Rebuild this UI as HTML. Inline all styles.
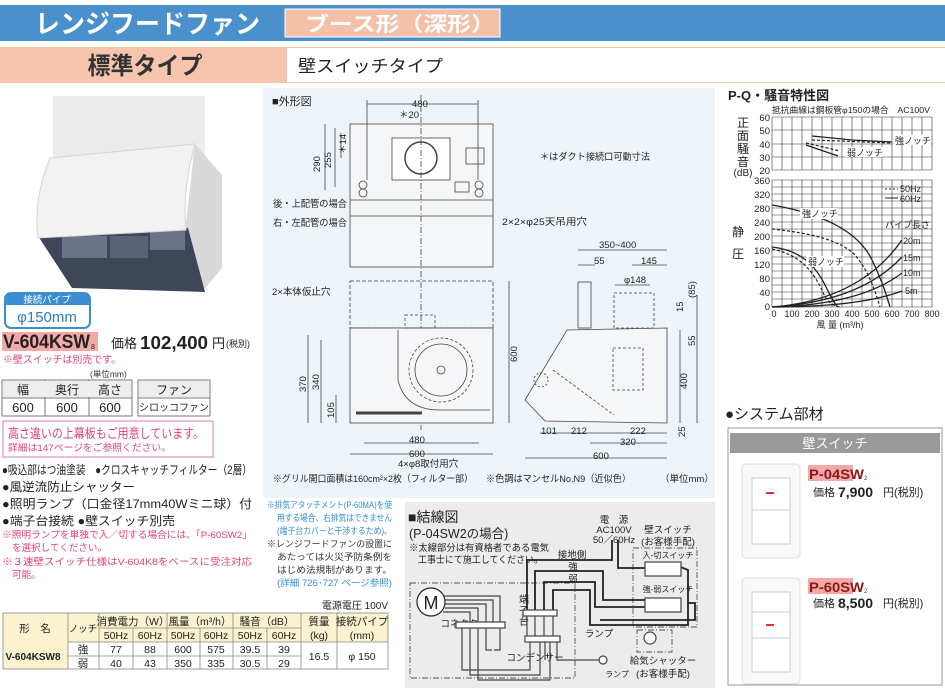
<!DOCTYPE html>
<html><head><meta charset="utf-8"><style>
html,body{margin:0;padding:0;background:#fff;}
svg{display:block;font-family:"Liberation Sans","Noto Sans CJK JP",sans-serif;}
</style></head><body>
<svg width="945" height="688" viewBox="0 0 945 688" xmlns="http://www.w3.org/2000/svg">
<!-- header -->
<rect x="0" y="5" width="945" height="36" fill="#4a90cc"/>
<text x="35" y="33" font-size="26" font-weight="bold" fill="#fff" textLength="225" lengthAdjust="spacingAndGlyphs">レンジフードファン</text>
<rect x="285" y="9" width="215" height="28" fill="#f5c0a8" stroke="#fff"/>
<text x="305" y="31" font-size="20" font-weight="bold" fill="#fff" textLength="190" lengthAdjust="spacingAndGlyphs">ブース形（深形）</text>
<rect x="0" y="47" width="945" height="36" fill="#f7c5ae"/>
<rect x="287" y="48" width="658" height="34" fill="#fff"/>
<text x="145" y="74" font-size="24" font-weight="bold" fill="#333" text-anchor="middle" textLength="115" lengthAdjust="spacingAndGlyphs">標準タイプ</text>
<text x="298" y="72" font-size="17" fill="#222" textLength="145" lengthAdjust="spacingAndGlyphs">壁スイッチタイプ</text>

<!-- product image -->
<rect x="53" y="96" width="152" height="64" fill="#ececec"/>
<polygon points="195,144 222,175 222,268 202,292 185,232" fill="#d9d9d9"/>
<polygon points="38,236 188,228 205,292 72,288" fill="#3f4658"/>
<rect x="62" y="236" width="45" height="22" fill="#6b7388"/>
<rect x="150" y="230" width="35" height="20" fill="#6b7388"/>
<rect x="110" y="236" width="38" height="22" fill="#5a6278"/>
<path d="M50,158 L195,144 Q182,190 186,230 L38,238 Q33,200 50,158 Z" fill="#f2f2f2" stroke="#d5d5d5"/>

<!-- pipe badge -->
<rect x="5" y="293" width="85" height="35" rx="6" fill="#fff" stroke="#3b8fd0" stroke-width="2"/>
<path d="M5,305 V299 a6,6 0 0 1 6,-6 H84 a6,6 0 0 1 6,6 V305 Z" fill="#3b8fd0"/>
<text x="47" y="303" font-size="9.5" fill="#fff" text-anchor="middle">接続パイプ</text>
<text x="47" y="322" font-size="15" fill="#2c7cc0" text-anchor="middle">φ150mm</text>

<rect x="2" y="332" width="96" height="19" fill="#f4a8a8"/>
<text x="3" y="348" font-size="19" font-weight="bold" fill="#222" textLength="87" lengthAdjust="spacingAndGlyphs">V-604KSW</text>
<text x="91" y="349" font-size="7" fill="#222">8</text>
<text x="111" y="348" font-size="13" fill="#222">価格</text>
<text x="140" y="349" font-size="18" font-weight="bold" fill="#222" textLength="68" lengthAdjust="spacingAndGlyphs">102,400</text>
<text x="212" y="348" font-size="13" fill="#222">円</text>
<text x="226" y="347" font-size="9" fill="#222">(税別)</text>
<text x="3" y="363" font-size="10" fill="#e0407a" textLength="118" lengthAdjust="spacingAndGlyphs">※壁スイッチは別売です。</text>
<text x="90" y="377" font-size="8.5" fill="#333">(単位mm)</text>
<g stroke="#777" fill="none">
<rect x="2" y="380" width="130" height="36"/><line x1="2" y1="398" x2="132" y2="398"/>
<line x1="45" y1="380" x2="45" y2="416"/><line x1="89" y1="380" x2="89" y2="416"/>
<rect x="138" y="380" width="72" height="36"/><line x1="138" y1="398" x2="210" y2="398"/>
</g>
<rect x="3" y="381" width="128" height="16" fill="#eee"/><rect x="139" y="381" width="70" height="16" fill="#eee"/>
<g font-size="12" fill="#222" text-anchor="middle">
<text x="23" y="394">幅</text><text x="67" y="394">奥行</text><text x="110" y="394">高さ</text><text x="174" y="394">ファン</text>
<text x="23" y="412" font-size="13">600</text><text x="67" y="412" font-size="13">600</text><text x="110" y="412" font-size="13">600</text><text x="174" y="411" font-size="10">シロッコファン</text>
</g>
<rect x="3" y="421" width="210" height="36" fill="#fff" stroke="#d77bb5"/>
<text x="8" y="438" font-size="13" fill="#e0407a" textLength="196" lengthAdjust="spacingAndGlyphs">高さ違いの上幕板もご用意しています。</text>
<text x="8" y="451" font-size="9.5" fill="#e0407a" textLength="163" lengthAdjust="spacingAndGlyphs">詳細は147ページをご参照ください。</text>
<g font-size="12" fill="#222" lengthAdjust="spacingAndGlyphs">
<text x="2" y="474" textLength="250" lengthAdjust="spacingAndGlyphs">●吸込部はつ油塗装　●クロスキャッチフィルター（2層）</text>
<text x="2" y="491" textLength="133" lengthAdjust="spacingAndGlyphs">●風逆流防止シャッター</text>
<text x="2" y="508" textLength="250" lengthAdjust="spacingAndGlyphs">●照明ランプ（口金径17mm40Wミニ球）付</text>
<text x="2" y="525" textLength="173" lengthAdjust="spacingAndGlyphs">●端子台接続 ●壁スイッチ別売</text>
</g>
<g font-size="9.5" fill="#e0407a">
<text x="2" y="538" textLength="250" lengthAdjust="spacingAndGlyphs">※照明ランプを単独で入／切する場合には、「P-60SW2」</text>
<text x="12" y="551" textLength="95" lengthAdjust="spacingAndGlyphs">を選択してください。</text>
<text x="2" y="565" textLength="250" lengthAdjust="spacingAndGlyphs">※３速壁スイッチ仕様はV-604K8をベースに受注対応</text>
<text x="12" y="578">可能。</text>
</g>

<!-- spec table -->
<text x="388" y="609" font-size="10" fill="#222" text-anchor="end">電源電圧 100V</text>
<rect x="3" y="613" width="385" height="29" fill="#fbf2cf"/>
<rect x="3" y="642" width="65" height="27" fill="#fbf2cf"/>
<g stroke="#888" fill="none" stroke-width="0.8">
<rect x="3" y="613" width="385" height="56"/>
<line x1="99" y1="628" x2="301" y2="628"/><line x1="68" y1="642" x2="388" y2="642"/><line x1="68" y1="656" x2="301" y2="656"/>
<line x1="68" y1="613" x2="68" y2="669"/><line x1="99" y1="613" x2="99" y2="669"/><line x1="133" y1="628" x2="133" y2="669"/>
<line x1="167" y1="613" x2="167" y2="669"/><line x1="200" y1="628" x2="200" y2="669"/><line x1="233" y1="613" x2="233" y2="669"/>
<line x1="267" y1="628" x2="267" y2="669"/><line x1="301" y1="613" x2="301" y2="669"/><line x1="337" y1="613" x2="337" y2="669"/>
</g>
<g font-size="10.5" fill="#222" text-anchor="middle">
<text x="35" y="632">形　名</text><text x="83" y="632" font-size="9.5">ノッチ</text>
<text x="133" y="625">消費電力（W）</text><text x="200" y="625">風量（m³/h）</text><text x="267" y="625">騒音（dB）</text>
<text x="319" y="625">質量</text><text x="362" y="625">接続パイプ</text>
<text x="116" y="639">50Hz</text><text x="150" y="639">60Hz</text><text x="183" y="639">50Hz</text><text x="216" y="639">60Hz</text><text x="250" y="639">50Hz</text><text x="284" y="639">60Hz</text>
<text x="319" y="639">(kg)</text><text x="362" y="639">(mm)</text>
<text x="33" y="660" font-weight="bold" font-size="10">V-604KSW8</text>
<text x="83" y="653">強</text><text x="83" y="667">弱</text>
<text x="116" y="653">77</text><text x="150" y="653">88</text><text x="183" y="653">600</text><text x="216" y="653">575</text><text x="250" y="653">39.5</text><text x="284" y="653">39</text>
<text x="116" y="667">40</text><text x="150" y="667">43</text><text x="183" y="667">350</text><text x="216" y="667">335</text><text x="250" y="667">30.5</text><text x="284" y="667">29</text>
<text x="319" y="660">16.5</text><text x="362" y="660">φ 150</text>
</g>

<!-- middle notes -->
<g font-size="9" text-anchor="end">
<text x="392" y="508" fill="#2f8fd0" textLength="125" lengthAdjust="spacingAndGlyphs">※排気アタッチメント(P-60MA)を使</text>
<text x="392" y="521" fill="#2f8fd0" textLength="115" lengthAdjust="spacingAndGlyphs">用する場合、右排気はできません</text>
<text x="392" y="534" fill="#2f8fd0" textLength="115" lengthAdjust="spacingAndGlyphs">(端子台カバーと干渉するため)。</text>
<text x="392" y="547" fill="#333" textLength="125" lengthAdjust="spacingAndGlyphs">※レンジフードファンの設置に</text>
<text x="392" y="560" fill="#333" textLength="115" lengthAdjust="spacingAndGlyphs">あたっては火災予防条例を</text>
<text x="392" y="573" fill="#333" textLength="115" lengthAdjust="spacingAndGlyphs">はじめ法規制があります。</text>
<text x="392" y="586" fill="#2f8fd0" textLength="115" lengthAdjust="spacingAndGlyphs">(詳細 726･727 ページ参照)</text>
</g>

<!-- outline drawing panel -->
<rect x="263" y="88" width="452" height="410" fill="#eef5fa"/>
<text x="272" y="105" font-size="11" fill="#222">■外形図</text>
<g stroke="#444" fill="none" stroke-width="0.8">
<rect x="350" y="124" width="143" height="143" fill="#f4f6f7"/>
<line x1="350" y1="200" x2="493" y2="200"/><line x1="350" y1="216" x2="493" y2="216"/>
<rect x="392" y="138" width="58" height="42" fill="#fff"/>
<circle cx="421" cy="158" r="16" stroke-width="1.5"/>
<rect x="466" y="148" width="18" height="16"/>
<rect x="455" y="182" width="14" height="10"/>
<circle cx="363" cy="185" r="4"/><circle cx="363" cy="193" r="4"/><circle cx="479" cy="185" r="4"/><circle cx="479" cy="193" r="4"/>
<line x1="367" y1="104" x2="478" y2="104"/><line x1="367" y1="100" x2="367" y2="180"/><line x1="478" y1="100" x2="478" y2="180"/>
<line x1="325" y1="124" x2="325" y2="190"/><line x1="335" y1="128" x2="335" y2="187"/><line x1="341" y1="133" x2="341" y2="158"/>
<line x1="421" y1="95" x2="421" y2="430" stroke-dasharray="6,2,1,2"/>
<rect x="350" y="281" width="143" height="47" stroke-dasharray="4,2"/>
<rect x="350" y="328" width="143" height="95" fill="#f4f6f7"/>
<path d="M398,330 L398,380 Q405,410 440,410 L490,410" />
<circle cx="441" cy="370" r="32" stroke-dasharray="3,2"/>
<circle cx="441" cy="370" r="26"/><circle cx="441" cy="370" r="4"/>
<rect x="405" y="315" width="30" height="13" stroke-dasharray="3,2"/>
<line x1="356" y1="413" x2="422" y2="413" stroke-width="3"/>
<line x1="509" y1="281" x2="509" y2="423"/><line x1="308" y1="335" x2="308" y2="423"/><line x1="321" y1="340" x2="321" y2="423"/><line x1="336" y1="395" x2="336" y2="423"/>
<line x1="350" y1="454" x2="493" y2="454"/><line x1="364" y1="443" x2="479" y2="443"/>
<polygon points="525,400 567,330 667,328 667,423 545,421" fill="#f4f6f7"/>
<rect x="578" y="282" width="13" height="46"/>
<rect x="614" y="293" width="40" height="35" stroke-dasharray="3,2"/>
<rect x="613" y="348" width="30" height="42" stroke-dasharray="3,2"/>
<line x1="553" y1="370" x2="614" y2="415" stroke-dasharray="3,2"/>
<circle cx="541" cy="380" r="7" stroke-dasharray="2,2"/>
<line x1="578" y1="250" x2="667" y2="250"/><line x1="578" y1="265" x2="595" y2="265"/><line x1="632" y1="265" x2="667" y2="265"/>
<line x1="615" y1="285" x2="650" y2="285"/>
<line x1="540" y1="433" x2="667" y2="433"/><line x1="590" y1="443" x2="667" y2="443"/><line x1="525" y1="458" x2="667" y2="458"/>
<line x1="697" y1="295" x2="697" y2="423"/><line x1="680" y1="330" x2="680" y2="423"/>
</g>
<g font-size="9.5" fill="#222">
<text x="412" y="107">480</text><text x="399" y="118">＊20</text>
<text x="540" y="160" textLength="110" lengthAdjust="spacingAndGlyphs">＊はダクト接続口可動寸法</text>
<text x="273" y="207" textLength="74" lengthAdjust="spacingAndGlyphs">後・上配管の場合</text><text x="273" y="226" textLength="74" lengthAdjust="spacingAndGlyphs">右・左配管の場合</text>
<text x="502" y="225" textLength="85" lengthAdjust="spacingAndGlyphs">2×2×φ25天吊用穴</text>
<text x="272" y="295">2×本体仮止穴</text>
<text x="599" y="248">350~400</text><text x="594" y="264">55</text><text x="641" y="264">145</text><text x="624" y="283">φ148</text>
<text x="409" y="443">480</text><text x="409" y="457">600</text><text x="398" y="467">4×φ8取付用穴</text>
<text x="541" y="434">101</text><text x="571" y="434">212</text><text x="630" y="434">222</text><text x="620" y="445">320</text><text x="593" y="459">600</text>
<text x="273" y="482" textLength="200" lengthAdjust="spacingAndGlyphs">※グリル開口面積は160cm²×2枚（フィルター部）</text><text x="486" y="482" textLength="145" lengthAdjust="spacingAndGlyphs">※色調はマンセルNo.N9（近似色）</text><text x="660" y="482">（単位mm）</text>
</g>
<g font-size="9.5" fill="#222">
<text transform="translate(320,172) rotate(-90)">290</text><text transform="translate(331,168) rotate(-90)">255</text><text transform="translate(346,154) rotate(-90)">＊14</text>
<text transform="translate(306,392) rotate(-90)">370</text><text transform="translate(319,390) rotate(-90)">340</text><text transform="translate(334,418) rotate(-90)">105</text>
<text transform="translate(517,362) rotate(-90)">600</text><text transform="translate(687,389) rotate(-90)">400</text>
<text transform="translate(695,298) rotate(-90)">(85)</text><text transform="translate(683,312) rotate(-90)">15</text><text transform="translate(695,346) rotate(-90)">55</text><text transform="translate(685,437) rotate(-90)">25</text>
</g>

<!-- wiring -->
<rect x="405" y="502" width="310" height="186" fill="#ececec"/>
<text x="408" y="522" font-size="14" fill="#222">■結線図</text>
<text x="409" y="538" font-size="12.5" fill="#222">(P-04SW2の場合)</text>
<text x="409" y="551" font-size="9.5" fill="#222" textLength="140" lengthAdjust="spacingAndGlyphs">※太線部分は有資格者である電気</text>
<text x="418" y="563" font-size="9.5" fill="#222" textLength="125" lengthAdjust="spacingAndGlyphs">工事士にて施工してください。</text>
<g font-size="9.5" fill="#222" text-anchor="middle">
<text x="614" y="523">電　源</text><text x="614" y="533">AC100V</text><text x="614" y="543">50／60Hz</text>
<text x="668" y="533">壁スイッチ</text><text x="668" y="545">(お客様手配)</text>
<text x="572" y="558">接地側</text><text x="573" y="570">強</text><text x="573" y="582">弱</text>
<text x="668" y="558" font-size="8">入-切スイッチ</text><text x="668" y="592" font-size="8">強-弱スイッチ</text>
<text x="464" y="627">コネクター</text><text x="535" y="661">コンデンサー</text>
<text x="599" y="637">ランプ</text><text x="617" y="677" font-size="8">ランプ</text>
<text x="663" y="664">給気シャッター</text><text x="663" y="677">(お客様手配)</text>
<text x="524" y="603" font-size="10">端</text><text x="524" y="614" font-size="10">子</text><text x="524" y="625" font-size="10">台</text>
</g>
<circle cx="431" cy="602" r="14" fill="#fff" stroke="#222" stroke-width="1.2"/>
<text x="431" y="609" font-size="18" fill="#222" text-anchor="middle">M</text>
<g fill="none" stroke="#555" stroke-width="0.9" stroke-dasharray="6,2,1,2">
<rect x="410" y="583" width="165" height="95"/>
<rect x="633" y="548" width="64" height="79"/>
<rect x="637" y="630" width="35" height="22"/>
</g>
<g fill="none" stroke="#222" stroke-width="1.8">
<polyline points="527,613 527,560 612,560 612,540"/>
<polyline points="618,540 618,568 650,568"/>
<polyline points="535,613 535,571 603,571 603,600 648,600"/>
<polyline points="544,613 544,582 595,582 595,607 648,607"/>
<polyline points="553,613 553,590 590,590 590,625 688,625 688,570 678,566"/>
<polyline points="688,603 695,603 695,620 600,620"/>
</g>
<g fill="none" stroke="#444" stroke-width="1.2">
<polyline points="444,596 500,596 500,622"/>
<polyline points="445,600 493,600 493,622"/>
<polyline points="445,604 486,604 486,622"/>
<polyline points="445,608 478,608 478,622"/>
<polyline points="443,612 470,612 470,622"/>
<polyline points="462,628 462,670 530,670 530,642"/>
<polyline points="470,628 470,675 540,675 540,642"/>
<polyline points="478,628 478,680 550,680 550,642"/>
<polyline points="486,628 486,650 492,650"/>
<polyline points="500,628 500,650 494,650"/>
<polyline points="527,613 527,636"/><polyline points="535,613 535,636"/><polyline points="544,613 544,636"/><polyline points="553,613 553,636"/>
<polyline points="557,642 557,660 600,660"/>
<polyline points="545,660 545,642"/>
<rect x="456" y="622" width="49" height="6" fill="#fff"/>
<rect x="525" y="636" width="35" height="6" fill="#fff"/>
<rect x="523" y="610" width="34" height="6" fill="#fff"/>
<circle cx="650" cy="638" r="6" fill="#fff"/>
<rect x="645" y="562" width="36" height="14" fill="#fff"/>
<rect x="645" y="598" width="36" height="14" fill="#fff"/>
<circle cx="603" cy="660" r="4" fill="#fff"/>
</g>

<!-- PQ chart -->
<text x="728" y="100" font-size="13" font-weight="bold" fill="#222">P-Q・騒音特性図</text>
<text x="772" y="113" font-size="8.5" fill="#222" textLength="158" lengthAdjust="spacingAndGlyphs">抵抗曲線は鋼板管φ150の場合　AC100V</text>
<g stroke="#333" stroke-width="0.6">
<path d="M772,117 H932 M772,130 H932 M772,144 H932 M772,157 H932 M772,170 H932"/>
<path d="M772,117 V170 M782,117 V170 M792,117 V170 M802,117 V170 M812,117 V170 M822,117 V170 M832,117 V170 M842,117 V170 M852,117 V170 M862,117 V170 M872,117 V170 M882,117 V170 M892,117 V170 M902,117 V170 M912,117 V170 M922,117 V170 M932,117 V170"/>
<path d="M772,180 H932 M772,187 H932 M772,194 H932 M772,201 H932 M772,208 H932 M772,215 H932 M772,222 H932 M772,229 H932 M772,236 H932 M772,243 H932 M772,250 H932 M772,257 H932 M772,264 H932 M772,271 H932 M772,278 H932 M772,285 H932 M772,292 H932 M772,299 H932 M772,307 H932"/>
<path d="M772,180 V307 M782,180 V307 M792,180 V307 M802,180 V307 M812,180 V307 M822,180 V307 M832,180 V307 M842,180 V307 M852,180 V307 M862,180 V307 M872,180 V307 M882,180 V307 M892,180 V307 M902,180 V307 M912,180 V307 M922,180 V307 M932,180 V307"/>
</g>
<g font-size="9.5" fill="#222" text-anchor="end">
<text x="770" y="121">60</text><text x="770" y="134">50</text><text x="770" y="148">40</text><text x="770" y="161">30</text><text x="770" y="174">20</text>
<text x="770" y="184">360</text><text x="770" y="198">320</text><text x="770" y="212">280</text><text x="770" y="226">240</text><text x="770" y="240">200</text><text x="770" y="254">160</text><text x="770" y="268">120</text><text x="770" y="282">80</text><text x="770" y="296">40</text><text x="770" y="310">0</text>
</g>
<g font-size="9" fill="#222" text-anchor="middle">
<text x="774" y="317">0</text><text x="792" y="317">100</text><text x="812" y="317">200</text><text x="832" y="317">300</text><text x="852" y="317">400</text><text x="872" y="317">500</text><text x="892" y="317">600</text><text x="912" y="317">700</text><text x="932" y="317">800</text>
<text x="840" y="328">風 量 (m³/h)</text>
</g>
<g font-size="12" fill="#222" text-anchor="middle">
<text x="743" y="127">正</text><text x="743" y="140">面</text><text x="743" y="153">騒</text><text x="743" y="166">音</text><text x="743" y="176" font-size="10">(dB)</text>
<text x="738" y="236">静</text><text x="738" y="258">圧</text>
</g>
<g fill="none" stroke="#222" stroke-width="1.3">
<path d="M812,136 L852,140 L892,142"/>
<path d="M806,145 L838,156"/>
<path d="M772,205 C830,215 860,235 872,260 C882,280 888,300 890,307"/>
<path d="M772,247 C800,250 815,265 825,285 C830,295 835,305 838,307"/>
<path d="M772,307 Q860,300 902,240"/>
<path d="M772,307 Q860,302 902,257"/>
<path d="M772,307 Q860,305 902,273"/>
<path d="M772,307 Q860,307 902,291"/>
</g>
<g fill="none" stroke="#222" stroke-width="1.2" stroke-dasharray="3,2">
<path d="M812,140 L892,143"/>
<path d="M806,143 L840,151"/>
<path d="M772,229 C810,233 840,240 855,255 C868,270 875,290 880,307"/>
<path d="M772,249 C800,255 812,270 822,290 C826,300 830,305 840,307"/>
</g>
<g font-size="9" fill="#222">
<rect x="893" y="135" width="38" height="10" fill="#fff"/><text x="895" y="144">強ノッチ</text>
<rect x="845" y="147" width="38" height="10" fill="#fff"/><text x="847" y="156">弱ノッチ</text>
<text x="900" y="192">50Hz</text><text x="900" y="202">60Hz</text>
<line x1="885" y1="189" x2="898" y2="189" stroke="#222" stroke-dasharray="2,2"/><line x1="885" y1="198" x2="898" y2="198" stroke="#222"/>
<rect x="800" y="208" width="38" height="11" fill="#fff"/><text x="802" y="217">強ノッチ</text>
<rect x="806" y="256" width="38" height="11" fill="#fff"/><text x="808" y="265">弱ノッチ</text>
<text x="885" y="228">パイプ長さ</text><text x="903" y="244">20m</text><text x="903" y="261">15m</text><text x="903" y="276">10m</text><text x="905" y="294">5m</text>
</g>

<!-- system parts -->
<text x="725" y="419" font-size="15" fill="#222">●システム部材</text>
<rect x="728" y="428" width="214" height="257" fill="#fff" stroke="#999"/>
<rect x="730" y="433" width="210" height="20" fill="#9a9a9a"/>
<text x="835" y="448" font-size="13" fill="#fff" text-anchor="middle">壁スイッチ</text>
<rect x="742" y="464" width="58" height="94" rx="4" fill="#f8f8f8" stroke="#ddd"/>
<rect x="752" y="478" width="38" height="66" fill="#fff" stroke="#ccc"/>
<line x1="752" y1="510" x2="790" y2="510" stroke="#ccc"/>
<rect x="766" y="492" width="8" height="2" fill="#d33"/>
<rect x="742" y="578" width="58" height="106" rx="4" fill="#f8f8f8" stroke="#ddd"/>
<rect x="752" y="592" width="38" height="80" fill="#fff" stroke="#ccc"/>
<line x1="752" y1="612" x2="790" y2="612" stroke="#ccc"/><line x1="752" y1="638" x2="790" y2="638" stroke="#ccc"/>
<rect x="766" y="624" width="8" height="2" fill="#d33"/>
<rect x="808" y="465" width="45" height="16" fill="#f4a8a8"/>
<text x="809" y="479" font-size="14" font-weight="bold" fill="#8a1a1a" textLength="55" lengthAdjust="spacingAndGlyphs">P-04SW</text><text x="864" y="480" font-size="6" fill="#8a1a1a">2</text>
<text x="813" y="496" font-size="11" fill="#222">価格</text><text x="838" y="497" font-size="14" font-weight="bold" fill="#222">7,900</text><text x="883" y="496" font-size="11" fill="#222">円(税別)</text>
<rect x="808" y="578" width="45" height="16" fill="#f4a8a8"/>
<text x="809" y="592" font-size="14" font-weight="bold" fill="#8a1a1a" textLength="55" lengthAdjust="spacingAndGlyphs">P-60SW</text><text x="864" y="593" font-size="6" fill="#8a1a1a">2</text>
<text x="813" y="607" font-size="11" fill="#222">価格</text><text x="838" y="608" font-size="14" font-weight="bold" fill="#222">8,500</text><text x="883" y="607" font-size="11" fill="#222">円(税別)</text>
</svg>
</body></html>
